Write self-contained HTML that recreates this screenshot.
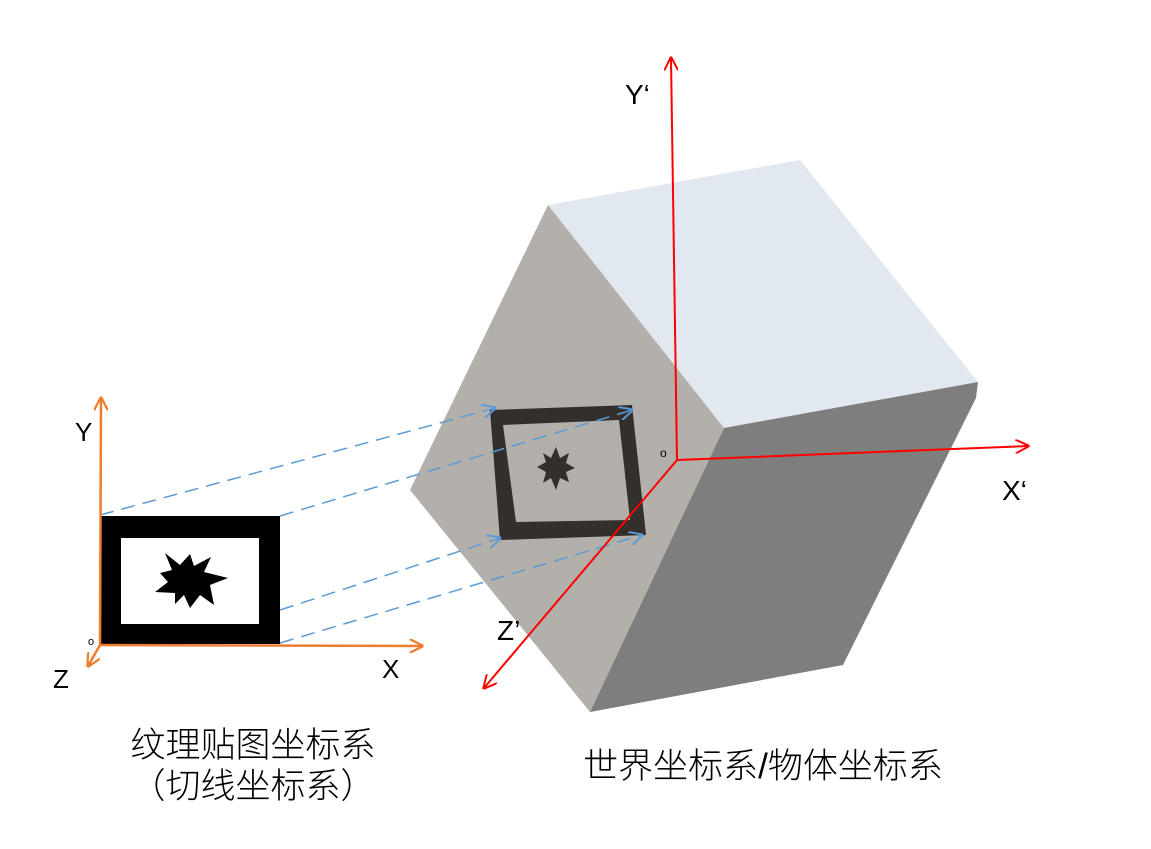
<!DOCTYPE html>
<html><head><meta charset="utf-8"><style>
body{margin:0;background:#fff;width:1151px;height:849px;overflow:hidden}
svg{display:block}
text{font-family:"Liberation Sans","Noto Sans CJK SC",sans-serif}
.cap{font-weight:300}
</style></head><body>
<svg width="1151" height="849" viewBox="0 0 1151 849">
<defs>
<marker id="ao" viewBox="0 0 10 10" refX="9" refY="5" markerWidth="14" markerHeight="14" markerUnits="userSpaceOnUse" orient="auto"><path d="M0,0 L10,5 L0,10" fill="none" stroke="#ed7d31" stroke-width="1.6"/></marker>
<marker id="ar" viewBox="0 0 10 10" refX="9" refY="5" markerWidth="14" markerHeight="14" markerUnits="userSpaceOnUse" orient="auto"><path d="M0,0 L10,5 L0,10" fill="none" stroke="#ff0000" stroke-width="1.4"/></marker>
<marker id="ab" viewBox="0 0 10 10" refX="9" refY="5" markerWidth="14" markerHeight="14" markerUnits="userSpaceOnUse" orient="auto"><path d="M0,0 L10,5 L0,10" fill="none" stroke="#5b9bd5" stroke-width="1.4"/></marker>
</defs>
<g>
<polygon points="548,205 800,160 978,382 724,428" fill="#e2e8ef"/>
<polygon points="548,205 724,428 590,712 410,490" fill="#b3afaa"/>
<polygon points="724,428 978,382 976,398 843,665 590,712" fill="#7f7e7f"/>
</g>
<g>
<polygon points="490,410 632,405 646,535 500,540 490,410 503,425 516,522 630,520 619,420 503,425" fill="#332f2d" fill-rule="evenodd"/>
<polygon points="556,447 560,458 569,453 566,463 575,468 566,472 569,482 560,478 556,490 551,478 543,483 546,472 537,467 546,462 543,453 551,458" fill="#332f2d"/>
</g>
<g>
<rect x="100" y="516" width="180" height="128" fill="#000"/>
<rect x="121" y="538" width="138" height="86" fill="#fff"/>
<polygon points="165,553 180,565 190,554 194,566 211,557 204,572 228,578 210,585 214,605 200,595 190,608 184,595 175,604 175,593 155,592 168,582 160,573 172,570" fill="#000"/>
</g>
<g stroke="#5b9bd5" stroke-width="1.5" stroke-dasharray="14,8" fill="none">
<line x1="100" y1="515" x2="495" y2="408" marker-end="url(#ab)"/>
<line x1="280" y1="516" x2="632" y2="410" marker-end="url(#ab)"/>
<line x1="280" y1="610" x2="500" y2="538" marker-end="url(#ab)"/>
<line x1="280" y1="643" x2="642" y2="535" marker-end="url(#ab)"/>
</g>
<g stroke="#ed7d31" stroke-width="2.5" fill="none">
<line x1="100" y1="645" x2="101" y2="398" marker-end="url(#ao)"/>
<line x1="99" y1="645" x2="422" y2="646" marker-end="url(#ao)"/>
<line x1="100" y1="645" x2="88" y2="666" marker-end="url(#ao)"/>
</g>
<g stroke="#ff0000" stroke-width="2" fill="none">
<line x1="677" y1="460" x2="671" y2="58" marker-end="url(#ar)"/>
<line x1="677" y1="460" x2="1028" y2="446" marker-end="url(#ar)"/>
<line x1="677" y1="460" x2="484" y2="688" marker-end="url(#ar)"/>
</g>
<g fill="#000" font-size="26">
<text x="75" y="441">Y</text>
<text x="382" y="678">X</text>
<text x="53" y="688">Z</text>
<text x="88" y="645" font-size="11">o</text>
<text x="625" y="104" font-size="28">Y‘</text>
<text x="1002" y="500" font-size="28">X‘</text>
<text x="497" y="640" font-size="28">Z’</text>
<text x="660" y="457" font-size="12">o</text>
<text class="cap" x="253" y="757" font-size="35" text-anchor="middle">纹理贴图坐标系</text>
<text class="cap" x="253" y="798" font-size="35" text-anchor="middle">（切线坐标系）</text>
<text class="cap" x="763" y="778" font-size="35" text-anchor="middle">世界坐标系/物体坐标系</text>
</g>
</svg>
</body></html>
